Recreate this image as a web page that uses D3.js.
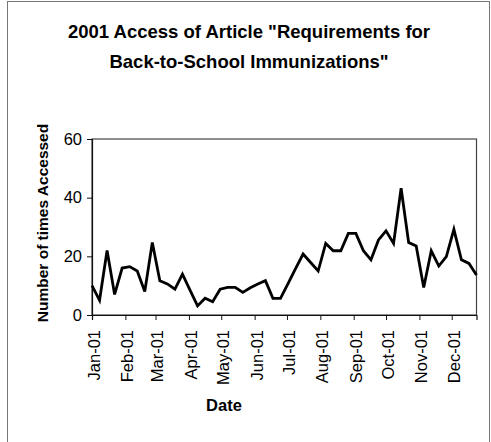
<!DOCTYPE html>
<html>
<head>
<meta charset="utf-8">
<script src="https://cdn.jsdelivr.net/npm/d3@7"></script>
<style>
  html, body { margin: 0; padding: 0; background: #fff; }
  svg { display: block; font-family: "Liberation Sans", Arial, sans-serif; }
</style>
</head>
<body>
<svg id="chart" width="491" height="442"></svg>
<script>
// Weekly access counts for the article during 2001
const weekStarts = [
  "2001-01-01","2001-01-08","2001-01-15","2001-01-22","2001-01-29",
  "2001-02-05","2001-02-12","2001-02-19","2001-02-26",
  "2001-03-05","2001-03-12","2001-03-19","2001-03-26",
  "2001-04-02","2001-04-09","2001-04-16","2001-04-23","2001-04-30",
  "2001-05-07","2001-05-14","2001-05-21","2001-05-28",
  "2001-06-04","2001-06-11","2001-06-18","2001-06-25",
  "2001-07-02","2001-07-09","2001-07-16","2001-07-23","2001-07-30",
  "2001-08-06","2001-08-13","2001-08-20","2001-08-27",
  "2001-09-03","2001-09-10","2001-09-17","2001-09-24",
  "2001-10-01","2001-10-08","2001-10-15","2001-10-22","2001-10-29",
  "2001-11-05","2001-11-12","2001-11-19","2001-11-26",
  "2001-12-03","2001-12-10","2001-12-17","2001-12-24"
];
const accessCounts = [
  10, 5, 22, 7, 16,
  16.5, 15, 8, 24.7,
  11.7, 10.6, 8.8, 13.9,
  8.5, 3.1, 5.7, 4.5, 8.8,
  9.4, 9.4, 7.7, 9.3,
  10.6, 11.7, 5.7, 5.7,
  10.7, 15.8, 20.8, 17.9, 15,
  24.4, 21.9, 21.9, 27.8,
  27.8, 21.9, 18.8, 25.6,
  28.7, 24.4, 43.2, 24.7, 23.5,
  9.4, 21.9, 16.7, 19.9,
  29.2, 18.8, 17.6, 13.6
];
const monthTicks = [
  "2001-01-01","2001-02-01","2001-03-01","2001-04-01","2001-05-01","2001-06-01",
  "2001-07-01","2001-08-01","2001-09-01","2001-10-01","2001-11-01","2001-12-01"
];
const monthLabels = ["Jan-01","Feb-01","Mar-01","Apr-01","May-01","Jun-01",
                     "Jul-01","Aug-01","Sep-01","Oct-01","Nov-01","Dec-01"];
const yTicks = [0, 20, 40, 60];
const titleLines = ["2001 Access of Article \"Requirements for", "Back-to-School Immunizations\""];

const parse = d3.utcParse("%Y-%m-%d");
const points = weekStarts.map((d, i) => ({ date: parse(d), value: accessCounts[i] }));
const tickDates = monthTicks.map(parse);

const svg = d3.select("#chart");
const plot = { left: 92, right: 476.5, top: 139, bottom: 315 };

// Outer chart frame
svg.append("rect")
  .attr("x", 7.5).attr("y", 1.5)
  .attr("width", 482).attr("height", 460)
  .attr("fill", "none").attr("stroke", "#777").attr("stroke-width", 1);

// Title
svg.append("g").selectAll("text").data(titleLines).join("text")
  .attr("x", 249).attr("y", (d, i) => 38 + i * 30)
  .attr("text-anchor", "middle")
  .attr("font-size", 18.5).attr("font-weight", "bold")
  .attr("fill", "#000")
  .text(d => d);

const x = d3.scaleUtc()
  .domain(d3.extent(points, d => d.date))
  .range([plot.left, plot.right]);
const y = d3.scaleLinear().domain([0, 60]).range([plot.bottom, plot.top]);

// Plot area border
svg.append("rect")
  .attr("x", plot.left).attr("y", plot.top)
  .attr("width", plot.right - plot.left).attr("height", plot.bottom - plot.top)
  .attr("fill", "none").attr("stroke", "#444").attr("stroke-width", 1.2);

// Y axis
const yAxis = svg.append("g")
  .attr("transform", `translate(${plot.left},0)`)
  .call(d3.axisLeft(y).tickValues(yTicks).tickSize(5).tickPadding(5).tickFormat(d3.format("d")));
yAxis.select(".domain").attr("stroke", "#111").attr("stroke-width", 1.2);
yAxis.selectAll(".tick line").attr("stroke", "#111");
yAxis.selectAll("text").attr("font-size", 16.5).attr("fill", "#000")
  .attr("font-family", "Liberation Sans, Arial, sans-serif");

// X axis
const xAxis = svg.append("g")
  .attr("transform", `translate(0,${plot.bottom})`)
  .call(d3.axisBottom(x).tickValues(tickDates).tickSize(5)
    .tickFormat((d, i) => monthLabels[i]));
xAxis.select(".domain").attr("stroke", "#111").attr("stroke-width", 1.2);
xAxis.selectAll(".tick line").attr("stroke", "#111");
xAxis.selectAll("text")
  .attr("font-size", 16.5).attr("fill", "#000")
  .attr("font-family", "Liberation Sans, Arial, sans-serif")
  .attr("text-anchor", "end")
  .attr("transform", "translate(1.5,15) rotate(-90)")
  .attr("x", 0).attr("y", 0).attr("dy", "0.36em");

// Axis titles
svg.append("text")
  .attr("transform", `translate(48,${(plot.top + plot.bottom) / 2 - 4}) rotate(-90)`)
  .attr("text-anchor", "middle")
  .attr("font-size", 15.5).attr("font-weight", "bold").attr("fill", "#000")
  .text("Number of times Accessed");

svg.append("text")
  .attr("x", 224).attr("y", 411)
  .attr("text-anchor", "middle")
  .attr("font-size", 16.5).attr("font-weight", "bold").attr("fill", "#000")
  .text("Date");

// Data line
svg.append("path")
  .datum(points)
  .attr("fill", "none")
  .attr("stroke", "#000")
  .attr("stroke-width", 2.8)
  .attr("stroke-linejoin", "miter")
  .attr("d", d3.line().x(d => x(d.date)).y(d => y(d.value)));
</script>
</body>
</html>
